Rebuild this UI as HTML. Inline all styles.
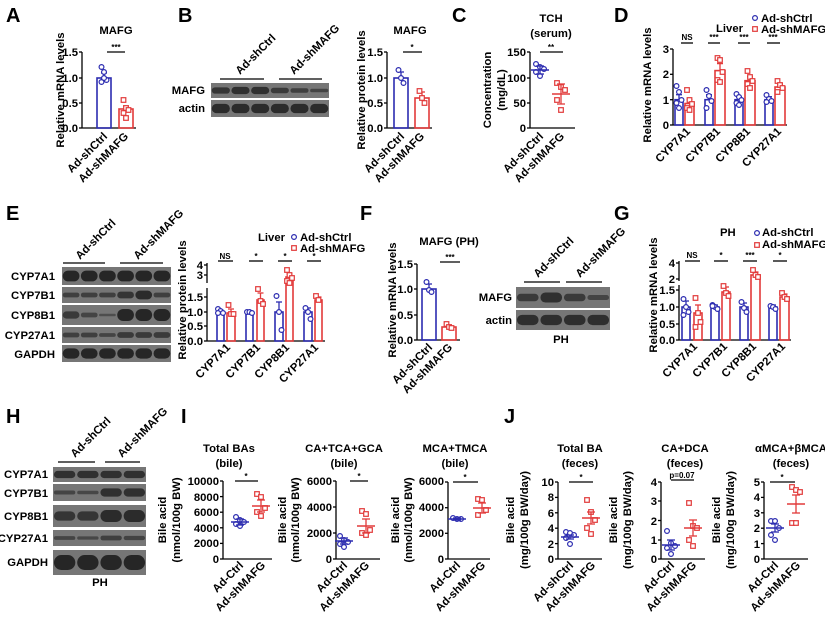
<!DOCTYPE html>
<html><head><meta charset="utf-8"><style>
body{margin:0;background:#fff}
svg{display:block}
.t{font:bold 11.3px "Liberation Sans",Arial,sans-serif;fill:#000}
.s{font:bold 8px "Liberation Sans",Arial,sans-serif}
.L{font:bold 20px "Liberation Sans",Arial,sans-serif}
.m{text-anchor:middle}.e{text-anchor:end}
</style></head><body>
<svg id="sv" width="825" height="617" viewBox="0 0 825 617" xmlns="http://www.w3.org/2000/svg">
<rect width="825" height="617" fill="#fff"/>
<g id="g"></g>
<g class="L"><text x="6" y="22">A</text><text x="178" y="22">B</text><text x="452" y="22">C</text><text x="614" y="22">D</text><text x="6" y="220">E</text><text x="360" y="220">F</text><text x="614" y="220">G</text><text x="6" y="423">H</text><text x="181" y="423">I</text><text x="504" y="423">J</text></g>
<g class="t">
<!-- A -->
<text x="116" y="34" class="m">MAFG</text>
<text x="78" y="56" class="e">1.5</text><text x="78" y="82" class="e">1.0</text><text x="78" y="107" class="e">0.5</text><text x="78" y="132" class="e">0.0</text>
<text transform="translate(64,90) rotate(-90)" class="m">Relative mRNA levels</text>
<text transform="translate(108,137) rotate(-45)" class="e">Ad-shCtrl</text><text transform="translate(129,137) rotate(-45)" class="e">Ad-shMAFG</text>
<!-- B -->
<text x="410" y="34" class="m">MAFG</text>
<text x="383" y="56" class="e">1.5</text><text x="383" y="82" class="e">1.0</text><text x="383" y="107" class="e">0.5</text><text x="383" y="132" class="e">0.0</text>
<text transform="translate(365,90) rotate(-90)" class="m">Relative protein levels</text>
<text transform="translate(405,137) rotate(-45)" class="e">Ad-shCtrl</text><text transform="translate(425,137) rotate(-45)" class="e">Ad-shMAFG</text>
<text x="205" y="94" class="e">MAFG</text><text x="205" y="112" class="e">actin</text>
<text transform="translate(240,75) rotate(-45)">Ad-shCtrl</text><text transform="translate(294,75) rotate(-45)">Ad-shMAFG</text>
<!-- C -->
<text x="551" y="22" class="m">TCH</text><text x="551" y="37" class="m">(serum)</text>
<text x="526" y="56" class="e">150</text><text x="526" y="82" class="e">100</text><text x="526" y="107" class="e">50</text><text x="526" y="132" class="e">0</text>
<text transform="translate(491,90) rotate(-90)" class="m">Concentration</text><text transform="translate(505,90) rotate(-90)" class="m">(mg/dL)</text>
<text transform="translate(544,137) rotate(-45)" class="e">Ad-shCtrl</text><text transform="translate(565,137) rotate(-45)" class="e">Ad-shMAFG</text>
<!-- D -->
<text x="669" y="53" class="e">3</text><text x="669" y="78" class="e">2</text><text x="669" y="104" class="e">1</text><text x="669" y="129" class="e">0</text>
<text transform="translate(651,85) rotate(-90)" class="m">Relative mRNA levels</text>
<text transform="translate(691,132) rotate(-45)" class="e">CYP7A1</text><text transform="translate(721,132) rotate(-45)" class="e">CYP7B1</text><text transform="translate(751,132) rotate(-45)" class="e">CYP8B1</text><text transform="translate(782,132) rotate(-45)" class="e">CYP27A1</text>
<text x="716" y="32">Liver</text><text x="761" y="22">Ad-shCtrl</text><text x="761" y="33">Ad-shMAFG</text>
<!-- E -->
<text x="55" y="280" class="e">CYP7A1</text><text x="55" y="299" class="e">CYP7B1</text><text x="55" y="319" class="e">CYP8B1</text><text x="55" y="339" class="e">CYP27A1</text><text x="55" y="358" class="e">GAPDH</text>
<text transform="translate(80,260) rotate(-45)">Ad-shCtrl</text><text transform="translate(138,260) rotate(-45)">Ad-shMAFG</text>
<text x="203" y="269" class="e">4</text><text x="203" y="279" class="e">3</text>
<text x="203" y="301" class="e">1.5</text><text x="203" y="316" class="e">1.0</text><text x="203" y="330" class="e">0.5</text><text x="203" y="345" class="e">0.0</text>
<text transform="translate(186,300) rotate(-90)" class="m">Relative protein levels</text>
<text transform="translate(231,348) rotate(-45)" class="e">CYP7A1</text><text transform="translate(261,348) rotate(-45)" class="e">CYP7B1</text><text transform="translate(290,348) rotate(-45)" class="e">CYP8B1</text><text transform="translate(319,348) rotate(-45)" class="e">CYP27A1</text>
<text x="258" y="241">Liver</text><text x="300" y="241">Ad-shCtrl</text><text x="300" y="252">Ad-shMAFG</text>
<!-- F -->
<text x="449" y="245" class="m">MAFG (PH)</text>
<text x="413" y="268" class="e">1.5</text><text x="413" y="293" class="e">1.0</text><text x="413" y="319" class="e">0.5</text><text x="413" y="344" class="e">0.0</text>
<text transform="translate(396,300) rotate(-90)" class="m">Relative mRNA levels</text>
<text transform="translate(433,348) rotate(-45)" class="e">Ad-shCtrl</text><text transform="translate(453,348) rotate(-45)" class="e">Ad-shMAFG</text>
<text x="512" y="301" class="e">MAFG</text><text x="512" y="324" class="e">actin</text><text x="561" y="343" class="m">PH</text>
<text transform="translate(538,278) rotate(-45)">Ad-shCtrl</text><text transform="translate(580,278) rotate(-45)">Ad-shMAFG</text>
<!-- G -->
<text x="675" y="267" class="e">4</text><text x="675" y="283" class="e">2</text>
<text x="675" y="294" class="e">1.5</text><text x="675" y="311" class="e">1.0</text><text x="675" y="328" class="e">0.5</text><text x="675" y="344" class="e">0.0</text>
<text transform="translate(657,295) rotate(-90)" class="m">Relative mRNA levels</text>
<text transform="translate(698,347) rotate(-45)" class="e">CYP7A1</text><text transform="translate(728,347) rotate(-45)" class="e">CYP7B1</text><text transform="translate(757,347) rotate(-45)" class="e">CYP8B1</text><text transform="translate(786,347) rotate(-45)" class="e">CYP27A1</text>
<text x="720" y="236">PH</text><text x="762" y="236">Ad-shCtrl</text><text x="762" y="248">Ad-shMAFG</text>
<!-- H -->
<text x="48" y="478" class="e">CYP7A1</text><text x="48" y="497" class="e">CYP7B1</text><text x="48" y="520" class="e">CYP8B1</text><text x="48" y="542" class="e">CYP27A1</text><text x="48" y="566" class="e">GAPDH</text>
<text x="100" y="586" class="m">PH</text>
<text transform="translate(75,458) rotate(-45)">Ad-shCtrl</text><text transform="translate(122,458) rotate(-45)">Ad-shMAFG</text>
<!-- I -->
<text x="229" y="452" class="m">Total BAs</text><text x="229" y="467" class="m">(bile)</text>
<text x="219" y="485" class="e">10000</text><text x="219" y="501" class="e">8000</text><text x="219" y="516" class="e">6000</text><text x="219" y="532" class="e">4000</text><text x="219" y="547" class="e">2000</text><text x="219" y="563" class="e">0</text>
<text transform="translate(166,520) rotate(-90)" class="m">Bile acid</text><text transform="translate(180,520) rotate(-90)" class="m">(nmol/100g BW)</text>
<text transform="translate(244,566) rotate(-45)" class="e">Ad-Ctrl</text><text transform="translate(266,566) rotate(-45)" class="e">Ad-shMAFG</text>
<text x="344" y="452" class="m">CA+TCA+GCA</text><text x="344" y="467" class="m">(bile)</text>
<text x="332" y="485" class="e">6000</text><text x="332" y="511" class="e">4000</text><text x="332" y="537" class="e">2000</text><text x="332" y="563" class="e">0</text>
<text transform="translate(286,520) rotate(-90)" class="m">Bile acid</text><text transform="translate(299,520) rotate(-90)" class="m">(nmol/100g BW)</text>
<text transform="translate(348,566) rotate(-45)" class="e">Ad-Ctrl</text><text transform="translate(370,566) rotate(-45)" class="e">Ad-shMAFG</text>
<text x="455" y="452" class="m">MCA+TMCA</text><text x="455" y="467" class="m">(bile)</text>
<text x="444" y="485" class="e">6000</text><text x="444" y="511" class="e">4000</text><text x="444" y="537" class="e">2000</text><text x="444" y="563" class="e">0</text>
<text transform="translate(399,520) rotate(-90)" class="m">Bile acid</text><text transform="translate(412,520) rotate(-90)" class="m">(nmol/100g BW)</text>
<text transform="translate(461,566) rotate(-45)" class="e">Ad-Ctrl</text><text transform="translate(486,566) rotate(-45)" class="e">Ad-shMAFG</text>
<!-- J -->
<text x="580" y="452" class="m">Total BA</text><text x="580" y="467" class="m">(feces)</text>
<text x="554" y="486" class="e">10</text><text x="554" y="501" class="e">8</text><text x="554" y="517" class="e">6</text><text x="554" y="532" class="e">4</text><text x="554" y="548" class="e">2</text><text x="554" y="563" class="e">0</text>
<text transform="translate(514,520) rotate(-90)" class="m">Bile acid</text><text transform="translate(528,520) rotate(-90)" class="m">(mg/100g BW/day)</text>
<text transform="translate(574,566) rotate(-45)" class="e">Ad-shCtrl</text><text transform="translate(596,566) rotate(-45)" class="e">Ad-shMAFG</text>
<text x="685" y="452" class="m">CA+DCA</text><text x="685" y="467" class="m">(feces)</text>
<text x="657" y="486" class="e">4</text><text x="657" y="505" class="e">3</text><text x="657" y="525" class="e">2</text><text x="657" y="544" class="e">1</text><text x="657" y="563" class="e">0</text>
<text transform="translate(617,520) rotate(-90)" class="m">Bile acid</text><text transform="translate(631,520) rotate(-90)" class="m">(mg/100g BW/day)</text>
<text transform="translate(675,566) rotate(-45)" class="e">Ad-Ctrl</text><text transform="translate(697,566) rotate(-45)" class="e">Ad-shMAFG</text>
<text x="791" y="452" class="m">αMCA+βMCA</text><text x="791" y="467" class="m">(feces)</text>
<text x="760" y="486" class="e">5</text><text x="760" y="501" class="e">4</text><text x="760" y="517" class="e">3</text><text x="760" y="532" class="e">2</text><text x="760" y="548" class="e">1</text><text x="760" y="563" class="e">0</text>
<text transform="translate(720,520) rotate(-90)" class="m">Bile acid</text><text transform="translate(734,520) rotate(-90)" class="m">(mg/100g BW/day)</text>
<text transform="translate(779,566) rotate(-45)" class="e">Ad-Ctrl</text><text transform="translate(801,566) rotate(-45)" class="e">Ad-shMAFG</text>
</g>
<g class="s m">
<text x="116" y="50">***</text><text x="412" y="50">*</text><text x="551" y="50">**</text>
<text x="687" y="40">NS</text><text x="714" y="40">***</text><text x="744" y="40">***</text><text x="773" y="40">***</text>
<text x="225" y="259">NS</text><text x="256" y="259">*</text><text x="285" y="259">*</text><text x="314" y="259">*</text>
<text x="450" y="260">***</text>
<text x="692" y="258">NS</text><text x="721" y="258">*</text><text x="750" y="258">***</text><text x="780" y="258">*</text>
<text x="246" y="479">*</text><text x="359" y="479">*</text><text x="465" y="480">*</text><text x="581" y="480">*</text><text x="682" y="478">p=0.07</text><text x="782" y="480">*</text>
</g>
</svg>
<script>
let s='';const B='#2c2cb0',R='#e23a3a';
function L(x1,y1,x2,y2,c='#000',w=1.3){s+=`<line x1="${x1}" y1="${y1}" x2="${x2}" y2="${y2}" stroke="${c}" stroke-width="${w}"/>`}
function axis(x,yt,yb,xe,t){L(x,yt,x,yb);L(x,yb,xe,yb);t.forEach(v=>L(x-3,v,x,v));}
function pt(cx,cy,c,sq){if(sq)s+=`<rect x="${cx-2.3}" y="${cy-2.3}" width="4.6" height="4.6" fill="#fff" stroke="${c}" stroke-width="1.2"/>`;else s+=`<circle cx="${cx}" cy="${cy}" r="2.4" fill="#fff" stroke="${c}" stroke-width="1.2"/>`}
function bar(x1,x2,top,base,c,err,p,sq){s+=`<rect x="${x1}" y="${top}" width="${x2-x1}" height="${base-top}" fill="none" stroke="${c}" stroke-width="1.6"/>`;const cx=(x1+x2)/2;L(cx,top-err,cx,top,c);L(cx-3,top-err,cx+3,top-err,c);p.forEach((v,i)=>pt(cx+((i%3)-1)*2.5,v,c,sq));}
function sc(cx,m,e,p,c,sq){p.forEach((v,i)=>pt(cx+((i%3)-1)*4,v,c,sq));L(cx-9,m,cx+9,m,c,1.6);L(cx,m-e,cx,m+e,c);L(cx-4,m-e,cx+4,m-e,c);L(cx-4,m+e,cx+4,m+e,c);}
function blot(x,y,w,h,ints){s+=`<rect x="${x}" y="${y}" width="${w}" height="${h}" fill="#767676"/>`;const lw=w/ints.length;ints.forEach((v,i)=>{const bh=Math.max(2.5,h*0.6*v);s+=`<rect x="${x+lw*(i+.04)}" y="${y+h/2-bh/2}" width="${lw*0.92}" height="${bh}" rx="${bh/2}" fill="#222" opacity="${0.35+0.6*v}"/>`});}
// A
axis(82,52,128,136,[52,78,103,128]);L(107,52,125,52);
bar(97,111,78,128,B,5,[67,72,80,82,78]);bar(119,133,109,128,R,3,[100,108,110,113,118],1);
// B
blot(211,83,118,15,[.7,.8,.8,.6,.5,.4]);blot(211,100,118,17,[.9,.9,.9,.9,.9,.9]);L(220,79,264,79);L(279,79,322,79);
axis(387,52,128,432,[52,78,103,128]);L(403,52,422,52);
bar(394,408,78,128,B,6,[70,78,83]);bar(415,429,98,128,R,6,[91,98,103],1);
// C
axis(530,52,128,575,[52,78,103,128]);L(540,52,563,52);
sc(540,70,4,[64,67,69,72,76],B);sc(561,94,10,[83,87,90,100,110],R,1);
// D
axis(673,49,125,787,[49,74.3,99.7,125]);
bar(675,683,99.7,125,B,5,[86,92,100,103,108]);bar(685,694,103.5,125,R,4,[90,100,104,108,110],1);
bar(705,713,99.7,125,B,5,[90,96,101,108]);bar(715,725,70.6,125,R,7,[58,60,72,80,82],1);
bar(735,743,99.7,125,B,3,[94,97,100,103,105]);bar(745,755,80.7,125,R,4,[71,77,81,84,88],1);
bar(765,773,99.7,125,B,3,[95,99,101,102]);bar(775,785,87,125,R,3,[81,85,88,92],1);
L(681,43,693,43);L(708,43,720,43);L(738,43,750,43);L(767,43,780,43);
pt(755,18,B);pt(755,29,R,1);
// E
blot(62,267,109,18,[1,1,1,1,1,1]);blot(62,287,109,16,[.5,.5,.5,.7,.9,.5]);blot(62,305,109,20,[.6,.4,.2,1,1,1]);blot(62,327,109,16,[.5,.5,.4,.6,.6,.6]);blot(62,345,109,17,[1,1,1,1,1,1]);
L(63,263,105,263);L(120,263,163,263);
L(207,288,207,341);L(207,263,207,283);L(207,341,325,341);[297,312,326,341,265,275].forEach(v=>L(204,v,207,v));
bar(217,224,312,341,B,2,[309,311,313,313]);bar(227,235,313,341,R,4,[305,314,314],1);
bar(246,253,312,341,B,1,[312,312,313]);bar(257,264,300,341,R,7,[289,301,304],1);
bar(275,283,312,341,B,10,[296,312,330]);bar(286,293,277,341,R,3,[270,275,278,281,283],1);
bar(304,312,312,341,B,4,[308,312,319]);bar(315,322,300,341,R,3,[296,300],1);
L(218,261,233,261);L(249,261,263,261);L(278,261,292,261);L(307,261,321,261);
pt(294,237,B);pt(294,248,R,1);
// F
axis(417,264,340,460,[264,289,315,340]);L(440,262,460,262);
bar(422,436,289,340,B,5,[282,290,292]);bar(442,456,327,340,R,2,[324,327,328],1);
blot(516,287,94,21,[.6,.8,.6,.4]);blot(516,310,94,20,[.85,.85,.85,.85]);L(524,282,560,282);L(566,282,602,282);
// G
L(679,285,679,340);L(679,261,679,281);L(679,340,791,340);[290,307,324,340,263,279].forEach(v=>L(676,v,679,v));
bar(682,690,307,340,B,6,[299,307,312,315]);bar(694,702,313,340,R,8,[298,313,322,327],1);
bar(711,719,307,340,B,2,[305,307,309,306]);bar(722,730,292,340,R,5,[286,293,296],1);
bar(740,748,307,340,B,4,[302,308,312]);bar(751,760,275,340,R,3,[270,275,277],1);
bar(769,777,307,340,B,2,[306,307,309]);bar(780,789,297,340,R,3,[293,297,299],1);
L(685,261,700,261);L(714,261,728,261);L(743,261,757,261);L(773,261,787,261);
pt(757,233,B);pt(757,245,R,1);
// H
blot(53,467,93,15,[.8,.8,.8,.8]);blot(53,484,93,17,[.4,.35,.8,.8]);blot(53,505,93,22,[.7,.7,.9,.9]);blot(53,530,93,16,[.4,.35,.5,.45]);blot(53,550,93,25,[1,1,1,1]);
L(58,462,95,462);L(105,462,140,462);
// I
axis(223,481,559,272,[481,496.6,512.2,527.8,543.4,559]);L(235,481,258,481);
sc(240,522,3,[517,520,522,524,526],B);sc(261,506,6,[494,497,508,512,516],R,1);
axis(336,481,559,380,[481,507,533,559]);L(350,481,368,481);
sc(344,541,3,[536,540,542,544,547],B);sc(366,526,7,[511,514,530,533,535],R,1);
axis(448,482,559,490,[482,507.7,533.3,559]);L(453,482,478,482);
sc(457,519,1,[518,519,519],B);sc(482,508,5,[499,500,510,515],R,1);
// J
axis(558,482,559,602,[482,497.4,512.8,528.2,543.6,559]);L(569,482,593,482);
sc(570,537,2,[532,533,535,538,544],B);sc(591,518,6,[500,512,520,528,534],R,1);
axis(661,482,559,705,[482,501,520.5,540,559]);L(671,480,694,480);
sc(671,545,5,[531,543,546,548,554],B);sc(693,528,8,[503,526,528,540,546],R,1);
axis(764,482,559,808,[482,497.4,512.8,528.2,543.6,559]);L(770,482,795,482);
sc(775,528,4,[521,521,528,535,540],B);sc(796,504,9,[487,490,492,523,523],R,1);
document.getElementById('g').innerHTML=s;
</script>
</body></html>
